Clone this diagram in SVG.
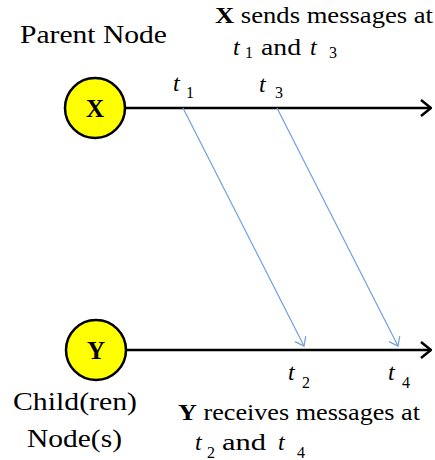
<svg xmlns="http://www.w3.org/2000/svg" width="435" height="460" viewBox="0 0 435 460">
<style>
.lbl{font-size:26px}
.cap{font-size:24px}
.it{font-style:italic;font-size:24px}
.sub{font-size:16px}
.nd{font-size:25px;font-weight:bold;text-anchor:middle}
.tl{stroke:#000;stroke-width:2.5;fill:none}
.msg{stroke:#6f9fdc;stroke-width:1.2;fill:none}
</style>
<defs>
<marker id="ah" markerWidth="12" markerHeight="18" refX="11" refY="9" orient="auto" markerUnits="userSpaceOnUse">
<path d="M1,1 L11,9 L1,17" fill="none" stroke="#000" stroke-width="2.5"/>
</marker>
<marker id="bh" markerWidth="10" markerHeight="14" refX="9" refY="7" orient="auto" markerUnits="userSpaceOnUse">
<path d="M1,1 L9,7 L1,13" fill="none" stroke="#6f9fdc" stroke-width="1.2"/>
</marker>
</defs>
<g id="connectors">
<line class="tl" x1="126" y1="108" x2="431" y2="108" marker-end="url(#ah)"/>
<line class="tl" x1="127" y1="350" x2="431" y2="350" marker-end="url(#ah)"/>
<line class="msg" x1="183" y1="108" x2="304" y2="346" marker-end="url(#bh)"/>
<line class="msg" x1="277" y1="108" x2="398" y2="346" marker-end="url(#bh)"/>
</g>
<g id="node-x" font-family="Liberation Serif, serif">
<circle cx="95" cy="108" r="30" fill="#ffff00" stroke="#000" stroke-width="2.5"/>
<text class="nd" x="95" y="117">X</text>
</g>
<g id="node-y" font-family="Liberation Serif, serif">
<circle cx="96" cy="350" r="30" fill="#ffff00" stroke="#000" stroke-width="2.5"/>
<text class="nd" x="96" y="359">Y</text>
</g>
<g id="labels" font-family="Liberation Serif, serif" fill="#000">
<text class="lbl" x="20" y="43" textLength="147" lengthAdjust="spacingAndGlyphs">Parent Node</text>
<text class="cap" x="215" y="23" textLength="218" lengthAdjust="spacingAndGlyphs"><tspan font-weight="bold">X</tspan> sends messages  at</text>
<text class="it" x="233" y="55">t</text><text class="sub" x="245" y="58">1</text>
<text class="cap" x="261" y="55" textLength="40" lengthAdjust="spacingAndGlyphs">and</text>
<text class="it" x="310" y="55">t</text><text class="sub" x="329" y="58">3</text>
<text class="it" x="173" y="91">t</text><text class="sub" x="186" y="98">1</text>
<text class="it" x="259" y="92">t</text><text class="sub" x="275" y="98">3</text>
<text class="it" x="288" y="380">t</text><text class="sub" x="302" y="388">2</text>
<text class="it" x="388" y="380">t</text><text class="sub" x="402" y="388">4</text>
<text class="lbl" x="13" y="410" textLength="124" lengthAdjust="spacingAndGlyphs">Child(ren)</text>
<text class="lbl" x="27" y="447" textLength="95" lengthAdjust="spacingAndGlyphs">Node(s)</text>
<text class="cap" x="178" y="420" textLength="242" lengthAdjust="spacingAndGlyphs"><tspan font-weight="bold">Y</tspan> receives messages  at</text>
<text class="it" x="195" y="450">t</text><text class="sub" x="207" y="458">2</text>
<text class="cap" x="222" y="450" textLength="44" lengthAdjust="spacingAndGlyphs">and</text>
<text class="it" x="278" y="450">t</text><text class="sub" x="297" y="458">4</text>
</g>
</svg>
